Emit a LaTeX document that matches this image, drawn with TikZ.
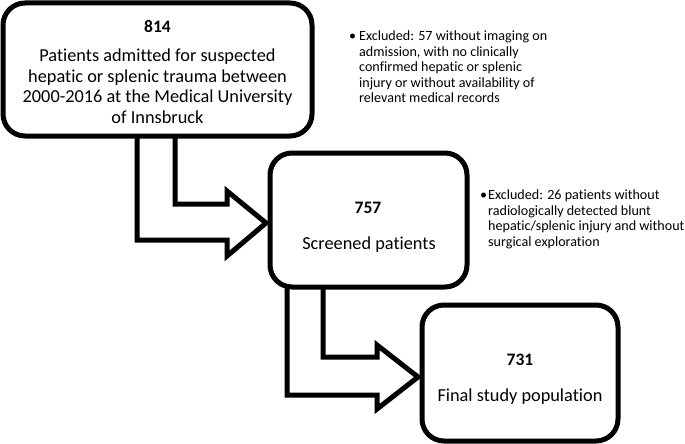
\documentclass[tikz,border=0pt]{standalone}
\usepackage{fontspec}
\setmainfont[RawFeature={-liga;-clig;-calt;-dlig}]{Carlito}
\begin{document}
\begin{tikzpicture}[x=1pt,y=-1pt,
  box/.style={draw, line width=5pt, rounded corners=22pt, fill=white, inner sep=0pt},
  bentarrow/.style={draw, line width=5pt, fill=white, line join=miter},
  numlabel/.style={font=\fontsize{17.5}{20}\selectfont\bfseries, inner sep=0pt},
  boxtext/.style={font=\fontsize{18.3}{20.5}\selectfont, align=center, inner sep=0pt},
  note/.style={font=\fontsize{14.1}{15.5}\selectfont, align=left, inner sep=0pt, anchor=north west}]
\useasboundingbox (0,0) rectangle (685,444);
% bent arrows (drawn first, boxes cover their tops)
\draw[bentarrow] (137,130) -- (137,240) -- (227,240) -- (227,256) -- (266,223) -- (227,191) -- (227,204) -- (175,204) -- (175,130) -- cycle;
\draw[bentarrow] (287,280) -- (287,395) -- (377,395) -- (377,409) -- (418,377) -- (377,345) -- (377,357) -- (323,357) -- (323,280) -- cycle;
% boxes
\node[box, minimum width=309pt, minimum height=133pt] (b1) at (157.5,69.5) {};
\node[box, minimum width=197pt, minimum height=134pt] (b2) at (368.5,220) {};
\node[box, minimum width=196pt, minimum height=136pt] (b3) at (520,373) {};
% texts
\node[numlabel] (n1) at (157.5,27) {814};
\node[boxtext] (t1) at (157.5,86) {Patients admitted for suspected\\hepatic or splenic trauma between\\2000-2016 at the Medical University\\of Innsbruck};
\node[numlabel] (n2) at (368,208) {757};
\node[boxtext] (t2) at (369,245) {Screened patients};
\node[numlabel] (n3) at (520,360) {731};
\node[boxtext] (t3) at (520,397) {Final study population};
% exclusion notes
\node[note] (e1) at (359,31) {\llap{\textbullet\hspace{3pt}}Excluded: 57 without imaging on\\admission, with no clinically\\confirmed hepatic or splenic\\injury or without availability of\\relevant medical records};
\node[note] (e2) at (488,190) {\llap{\textbullet\hspace{1pt}}Excluded: 26 patients without\\radiologically detected blunt\\hepatic/splenic injury and without\\surgical exploration};
\end{tikzpicture}
\end{document}
